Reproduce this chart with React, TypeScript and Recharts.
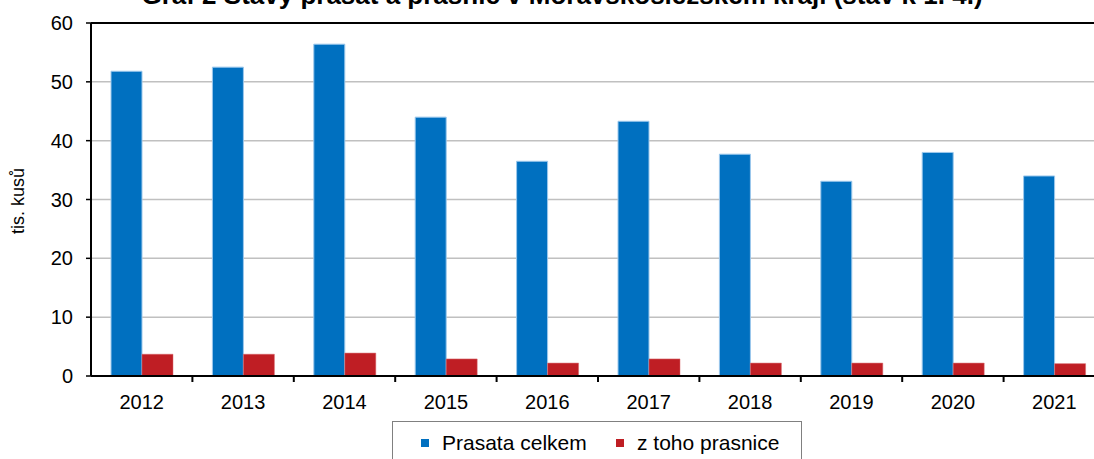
import React from "react";
import { BarChart, Bar, XAxis, YAxis, CartesianGrid, ReferenceLine } from "recharts";

const years = ["2012", "2013", "2014", "2015", "2016", "2017", "2018", "2019", "2020", "2021"];
const prasataCelkem = [51.8, 52.5, 56.4, 44.0, 36.5, 43.3, 37.7, 33.1, 38.0, 34.0];
const prasnice = [3.7, 3.7, 3.9, 2.9, 2.2, 2.9, 2.2, 2.2, 2.2, 2.1];
const yTicks = [0, 10, 20, 30, 40, 50, 60];

const FONT = "'Liberation Sans', Arial, sans-serif";
const BLUE = "#0070C0";
const RED = "#BF1E24";

const chartData = years.map((year, i) => ({
  year,
  celkem: prasataCelkem[i],
  prasnice: prasnice[i],
}));

// the plot runs a bit past the right edge of the picture
const PLOT_LEFT = 91;
const PLOT_RIGHT = 1105;
const band = (PLOT_RIGHT - PLOT_LEFT) / years.length;

// year label at the centre, tick mark on the left boundary of the category
function YearTick(props: any) {
  const { x, y, payload, index } = props;
  return (
    <g>
      {index > 0 && (
        <line x1={x - band / 2} x2={x - band / 2} y1={y} y2={y + 6} stroke="#000" strokeWidth={2} />
      )}
      <text x={x} y={y + 33} textAnchor="middle" fontSize={20} fontFamily={FONT} fill="#000">
        {payload.value}
      </text>
    </g>
  );
}

export default function App() {
  return (
    <div style={{ position: "absolute", left: 0, top: 0, width: 1094, height: 459, overflow: "hidden", background: "#fff", fontFamily: FONT }}>
      <div
        style={{
          position: "absolute",
          top: -18,
          left: 0,
          width: 1124,
          textAlign: "center",
          fontSize: 26,
          lineHeight: "26px",
          fontWeight: "bold",
          color: "#000",
          whiteSpace: "nowrap",
        }}
      >
        Graf 2 Stavy prasat a prasnic v Moravskoslezském kraji (stav k 1. 4.)
      </div>

      <BarChart
        width={1094}
        height={459}
        data={chartData}
        margin={{ top: 23, right: 1094 - PLOT_RIGHT, bottom: 0, left: 0 }}
        barSize={31}
        barGap={0}
      >
        <CartesianGrid vertical={false} stroke="#c0c0c0" strokeWidth={1.5} />
        <XAxis
          dataKey="year"
          height={83}
          axisLine={{ stroke: "#000", strokeWidth: 2 }}
          tickLine={false}
          tickSize={0}
          tickMargin={0}
          tick={<YearTick />}
          interval={0}
        />
        <YAxis
          width={PLOT_LEFT}
          domain={[0, 60]}
          ticks={yTicks}
          interval={0}
          axisLine={{ stroke: "#000", strokeWidth: 2 }}
          tickLine={{ stroke: "#000", strokeWidth: 1.5 }}
          tickSize={5}
          tickMargin={13}
          tick={{ fontSize: 20, fill: "#000", fontFamily: FONT }}
          label={{
            content: () => (
              <text
                transform="translate(24,201) rotate(-90)"
                textAnchor="middle"
                fontSize={18}
                fontFamily={FONT}
                fill="#000"
              >
                tis. kusů
              </text>
            ),
          }}
        />
        <ReferenceLine y={60} stroke="#000" strokeWidth={2} />
        <Bar dataKey="celkem" fill={BLUE} stroke="#9cc8ec" strokeWidth={1} isAnimationActive={false} />
        <Bar dataKey="prasnice" fill={RED} stroke="#d86a6e" strokeWidth={0.5} isAnimationActive={false} />
      </BarChart>

      <div
        style={{
          position: "absolute",
          left: 392,
          top: 421,
          width: 410,
          height: 50,
          border: "1px solid #808080",
          boxSizing: "border-box",
          fontSize: 21,
          lineHeight: "24px",
          color: "#000",
        }}
      >
        <div style={{ position: "absolute", left: 28, top: 17, width: 8, height: 8, background: BLUE }} />
        <div style={{ position: "absolute", left: 49, top: 9, whiteSpace: "nowrap" }}>Prasata celkem</div>
        <div style={{ position: "absolute", left: 223, top: 17, width: 8, height: 8, background: RED }} />
        <div style={{ position: "absolute", left: 244, top: 9, whiteSpace: "nowrap" }}>z toho prasnice</div>
      </div>
    </div>
  );
}
